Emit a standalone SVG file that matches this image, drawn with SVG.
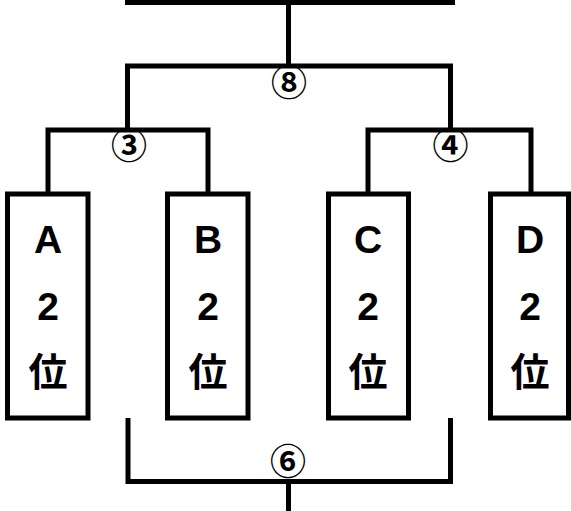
<svg xmlns="http://www.w3.org/2000/svg" width="571" height="511" viewBox="0 0 571 511">
<style>
.ln{fill:none;stroke:#000;stroke-width:5;stroke-linejoin:miter;stroke-linecap:butt}
.box{fill:#fff;stroke:#000;stroke-width:5}
.t{font-family:"Liberation Sans","Noto Sans CJK JP",sans-serif;font-weight:bold;font-size:39px;text-anchor:middle;fill:#000}
.k{font-family:"Noto Sans CJK JP",sans-serif;font-weight:bold;font-size:39px;text-anchor:middle;fill:#000}
.n{font-family:"Noto Sans CJK JP","Noto Sans",sans-serif;font-weight:bold;font-size:36px;text-anchor:middle;fill:#000}
</style>
<rect width="571" height="511" fill="#fff"/>
<g id="connectors">
<path class="ln" d="M125 2.5H455"/>
<path class="ln" d="M288.5 0V66"/>
<path class="ln" d="M127.5 130V66H450.5V130"/>
<path class="ln" d="M48 194V130H208V194"/>
<path class="ln" d="M368 194V130H531V194"/>
<path class="ln" d="M128 418V481.5H450.5V418"/>
<path class="ln" d="M288.5 481.5V511"/>
</g>
<g id="label-8"><text class="n" x="289" y="95.5">⑧</text></g>
<g id="label-3"><text class="n" x="129" y="158.5">③</text></g>
<g id="label-4"><text class="n" x="450.5" y="158.5">④</text></g>
<g id="label-6"><text class="n" x="288" y="475">⑥</text></g>
<g id="nodeA">
<rect class="box" x="7.5" y="194" width="80.5" height="224"/>
<text class="t" x="48" y="253">A</text>
<text class="t" x="48" y="320">2</text>
<text class="k" x="48" y="386">位</text>
</g>
<g id="nodeB">
<rect class="box" x="167.5" y="194" width="80.5" height="224"/>
<text class="t" x="208" y="253">B</text>
<text class="t" x="208" y="320">2</text>
<text class="k" x="208" y="386">位</text>
</g>
<g id="nodeC">
<rect class="box" x="328.5" y="194" width="80" height="224"/>
<text class="t" x="368" y="253">C</text>
<text class="t" x="368" y="320">2</text>
<text class="k" x="368" y="386">位</text>
</g>
<g id="nodeD">
<rect class="box" x="490.5" y="194" width="78" height="224"/>
<text class="t" x="530" y="253">D</text>
<text class="t" x="530" y="320">2</text>
<text class="k" x="530" y="386">位</text>
</g>
</svg>
